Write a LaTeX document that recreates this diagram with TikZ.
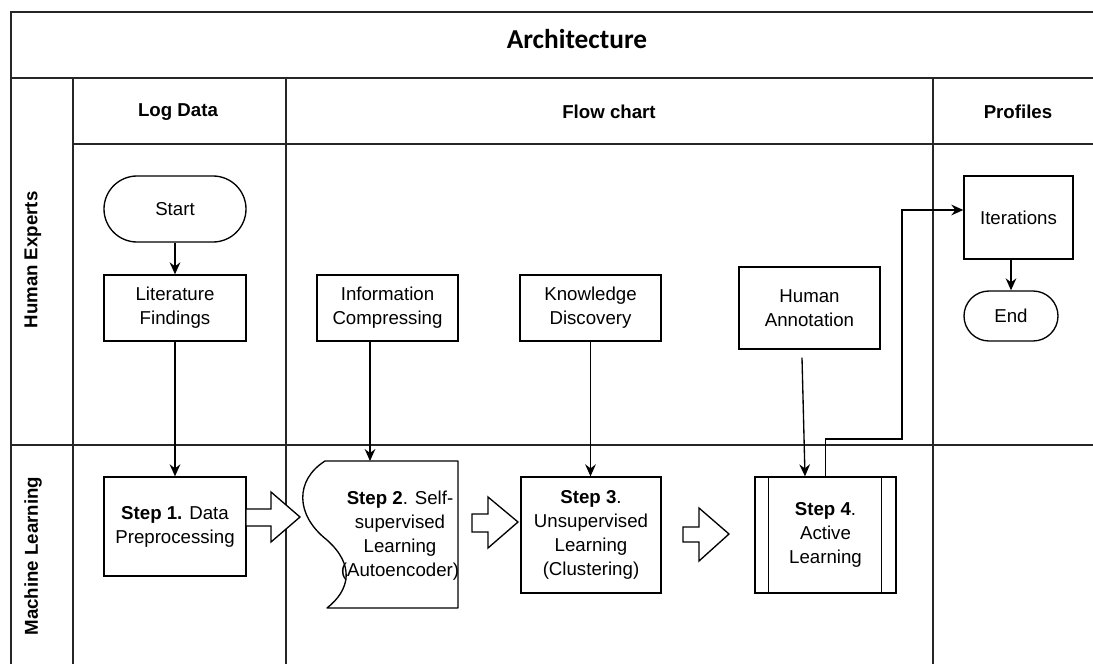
\documentclass[tikz,border=0pt]{standalone}
\usepackage{fontspec}
\setmainfont{Liberation Sans}
\newfontfamily\titlefont{Carlito}
\usetikzlibrary{arrows.meta,calc}

\begin{document}
\begin{tikzpicture}[x=0.75pt,y=-0.75pt,
  frame/.style={line width=1.1pt,draw=black!85},
  box/.style={draw,line width=1pt,align=center,font=\fontsize{14}{18}\selectfont,inner sep=0pt},
  hdr/.style={font=\bfseries\fontsize{14}{17}\selectfont},
  conn/.style={line width=1pt,-{Stealth[length=9pt,width=8pt,inset=3pt]}},
  plainline/.style={line width=1pt},
  blockarrow/.style={draw,line width=1pt,fill=white,line join=miter}]

\useasboundingbox (0,0) rectangle (1093,664);

% ---------- frame / swimlanes ----------
\draw[frame] (1093,12) -- (11,12) -- (11,664);
\draw[frame] (11,78) -- (1093,78);
\draw[frame] (73,144) -- (1093,144);
\draw[frame] (11,445) -- (1093,445);
\draw[frame] (73,78) -- (73,664);
\draw[frame] (286,78) -- (286,664);
\draw[frame] (933,78) -- (933,664);

\node[font=\titlefont\bfseries\fontsize{20.5}{23}\selectfont] (title) at (577,39) {Architecture};
\node[hdr] (hlog) at (178,112) {Log Data};
\node[hdr] (hflow) at (609,112) {Flow chart};
\node[hdr] (hprof) at (1018,112) {Profiles};
\node[hdr,rotate=90] (lhe) at (33,260) {Human Experts};
\node[hdr,rotate=90] (lml) at (33,556) {Machine Learning};

% ---------- Human experts lane ----------
\node[box,rounded corners=24.75pt,minimum width=106.5pt,minimum height=49.5pt] (start) at (175,209) {Start};
\node[box,minimum width=106.5pt,minimum height=49.5pt] (lit) at (175,308) {Literature\\Findings};
\node[box,minimum width=105.75pt,minimum height=49.5pt] (info) at (387.5,308) {Information\\Compressing};
\node[box,minimum width=105.75pt,minimum height=49.5pt] (know) at (590.5,308) {Knowledge\\Discovery};
\node[box,minimum width=105.75pt,minimum height=61.5pt] (annot) at (809.5,308) {Human\\Annotation};
\node[box,minimum width=81.75pt,minimum height=62.25pt] (iter) at (1018.5,217.5) {Iterations};
\node[box,rounded corners=18.75pt,minimum width=70.5pt,minimum height=37.5pt] (end) at (1011,316) {End};

% ---------- Machine learning lane ----------
\node[box,minimum width=106.5pt,minimum height=74.25pt] (s1) at (175,526.5) {\textbf{Step 1.} Data\\Preprocessing};

% Step 2: shape with wavy left side
\draw[line width=1pt,line join=round] (325,461) -- (458,461) -- (458,608) -- (327,608)
  .. controls (350,590) and (355,565) .. (327,540)
  .. controls (295,515) and (295,480) .. (325,461) -- cycle;
\node[box,draw=none] (s2) at (400,536) {\textbf{Step 2}. Self-\\supervised\\Learning\\(Autoencoder)};
\coordinate (s2top) at (370,461);

\node[box,minimum width=105pt,minimum height=87pt] (s3) at (591,535) {\textbf{Step 3}.\\Unsupervised\\Learning\\(Clustering)};

\node[box,minimum width=105.75pt,minimum height=87pt] (s4) at (825.5,535) {\textbf{Step 4}.\\Active\\Learning};
\draw[plainline] ($(s4.north west)+(14,0)$) -- ($(s4.south west)+(14,0)$);
\draw[plainline] ($(s4.north east)+(-15,0)$) -- ($(s4.south east)+(-15,0)$);

% ---------- block arrows ----------
\draw[blockarrow] (246,509) -- (271,509) -- (271,492) -- (300,517) -- (271,542) -- (271,526) -- (246,526) -- cycle;
\draw[blockarrow] (472,514) -- (488,514) -- (488,497) -- (518,522) -- (488,548) -- (488,532) -- (472,532) -- cycle;
\draw[blockarrow] (683,527) -- (699,527) -- (699,508) -- (729,534) -- (699,561) -- (699,542) -- (683,542) -- cycle;

% ---------- connectors ----------
\draw[conn] (start) -- (lit);
\draw[conn] (lit) -- (s1);
\draw[conn] (s2top |- info.south) -- (s2top);
\draw[conn] (know.south) -- (know.south |- s3.north);
\coordinate (anfrom) at ($(annot.south)+(-7.5,8)$);
\draw[conn] (anfrom) -- ($(s4.north)+(-20.5,0)$);
\coordinate (c1) at (902,439);
\coordinate (c2) at ($(iter.west)+(0,-7.5)$);
\draw[conn] (s4.north) |- (c1) |- (c2);
\draw[conn] (end.north |- iter.south) -- (end.north);
\end{tikzpicture}
\end{document}
